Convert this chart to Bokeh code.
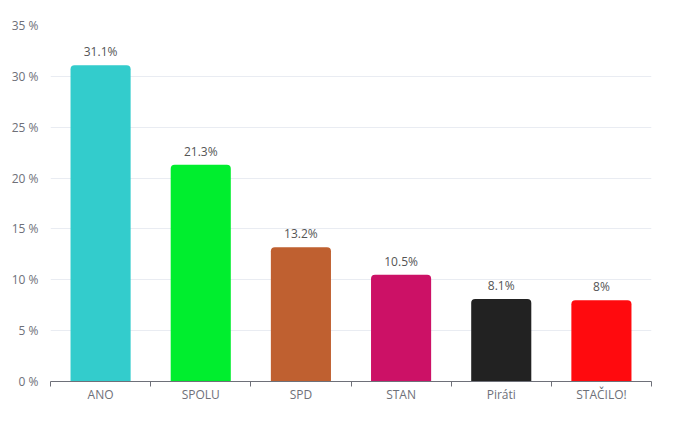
from bokeh.plotting import figure
from bokeh.models import FixedTicker, Range1d, ColumnDataSource, PrintfTickFormatter
from bokeh.embed import file_html
from bokeh.resources import INLINE
from bokeh.core.properties import value

categories = ["ANO", "SPOLU", "SPD", "STAN", "Piráti", "STAČILO!"]
values = [31.1, 21.3, 13.2, 10.5, 8.1, 8.0]
colors = ["#33CCCC", "#00EE2E", "#BF6030", "#CC1166", "#222222", "#FF0A0E"]
y_ticks = [0, 5, 10, 15, 20, 25, 30, 35]

FONT = "Open Sans"

xs = [i + 0.5 for i in range(len(categories))]
labels = [f"{v:g}%" for v in values]
src = ColumnDataSource(dict(x=xs, top=values, color=colors, label=labels))

p = figure(width=676, height=407, output_backend="svg", toolbar_location=None,
           x_range=Range1d(0, len(categories)), y_range=Range1d(0, 35),
           min_border_left=50, min_border_right=25, min_border_top=25, min_border_bottom=26)
p.outline_line_color = None
p.background_fill_color = "white"
p.border_fill_color = "white"

p.vbar(x="x", top="top", width=0.6, bottom=0, color="color", source=src,
       line_color=None, border_radius=(4, 4, 0, 0))
p.text(x="x", y="top", text="label", source=src, text_align="center",
       text_baseline="bottom", y_offset=-5, text_color="#555555",
       text_font=value(FONT), text_font_size="12px")

# y axis
p.yaxis.ticker = FixedTicker(ticks=y_ticks)
p.yaxis.formatter = PrintfTickFormatter(format="%d %%")
p.yaxis.axis_line_color = None
p.yaxis.major_tick_line_color = None
p.yaxis.minor_tick_line_color = None
p.yaxis.major_label_standoff = 6
p.yaxis.major_label_text_color = "#6E7079"
p.yaxis.major_label_text_font = FONT
p.yaxis.major_label_text_font_size = "12px"

# x axis
p.xaxis.ticker = FixedTicker(ticks=xs, minor_ticks=list(range(len(categories) + 1)))
p.xaxis.major_label_overrides = {x: c for x, c in zip(xs, categories)}
p.xaxis.axis_line_color = "#6E7079"
p.xaxis.major_tick_line_color = None
p.xaxis.minor_tick_line_color = "#6E7079"
p.xaxis.minor_tick_out = 5
p.xaxis.minor_tick_in = 0
p.xaxis.major_label_standoff = -2
p.xaxis.major_label_text_color = "#6E7079"
p.xaxis.major_label_text_font = FONT
p.xaxis.major_label_text_font_size = "12px"

p.xgrid.grid_line_color = None
p.ygrid.ticker = FixedTicker(ticks=y_ticks)
p.ygrid.grid_line_color = "#E9ECF2"

open("out.html", "w").write(file_html(p, INLINE))
